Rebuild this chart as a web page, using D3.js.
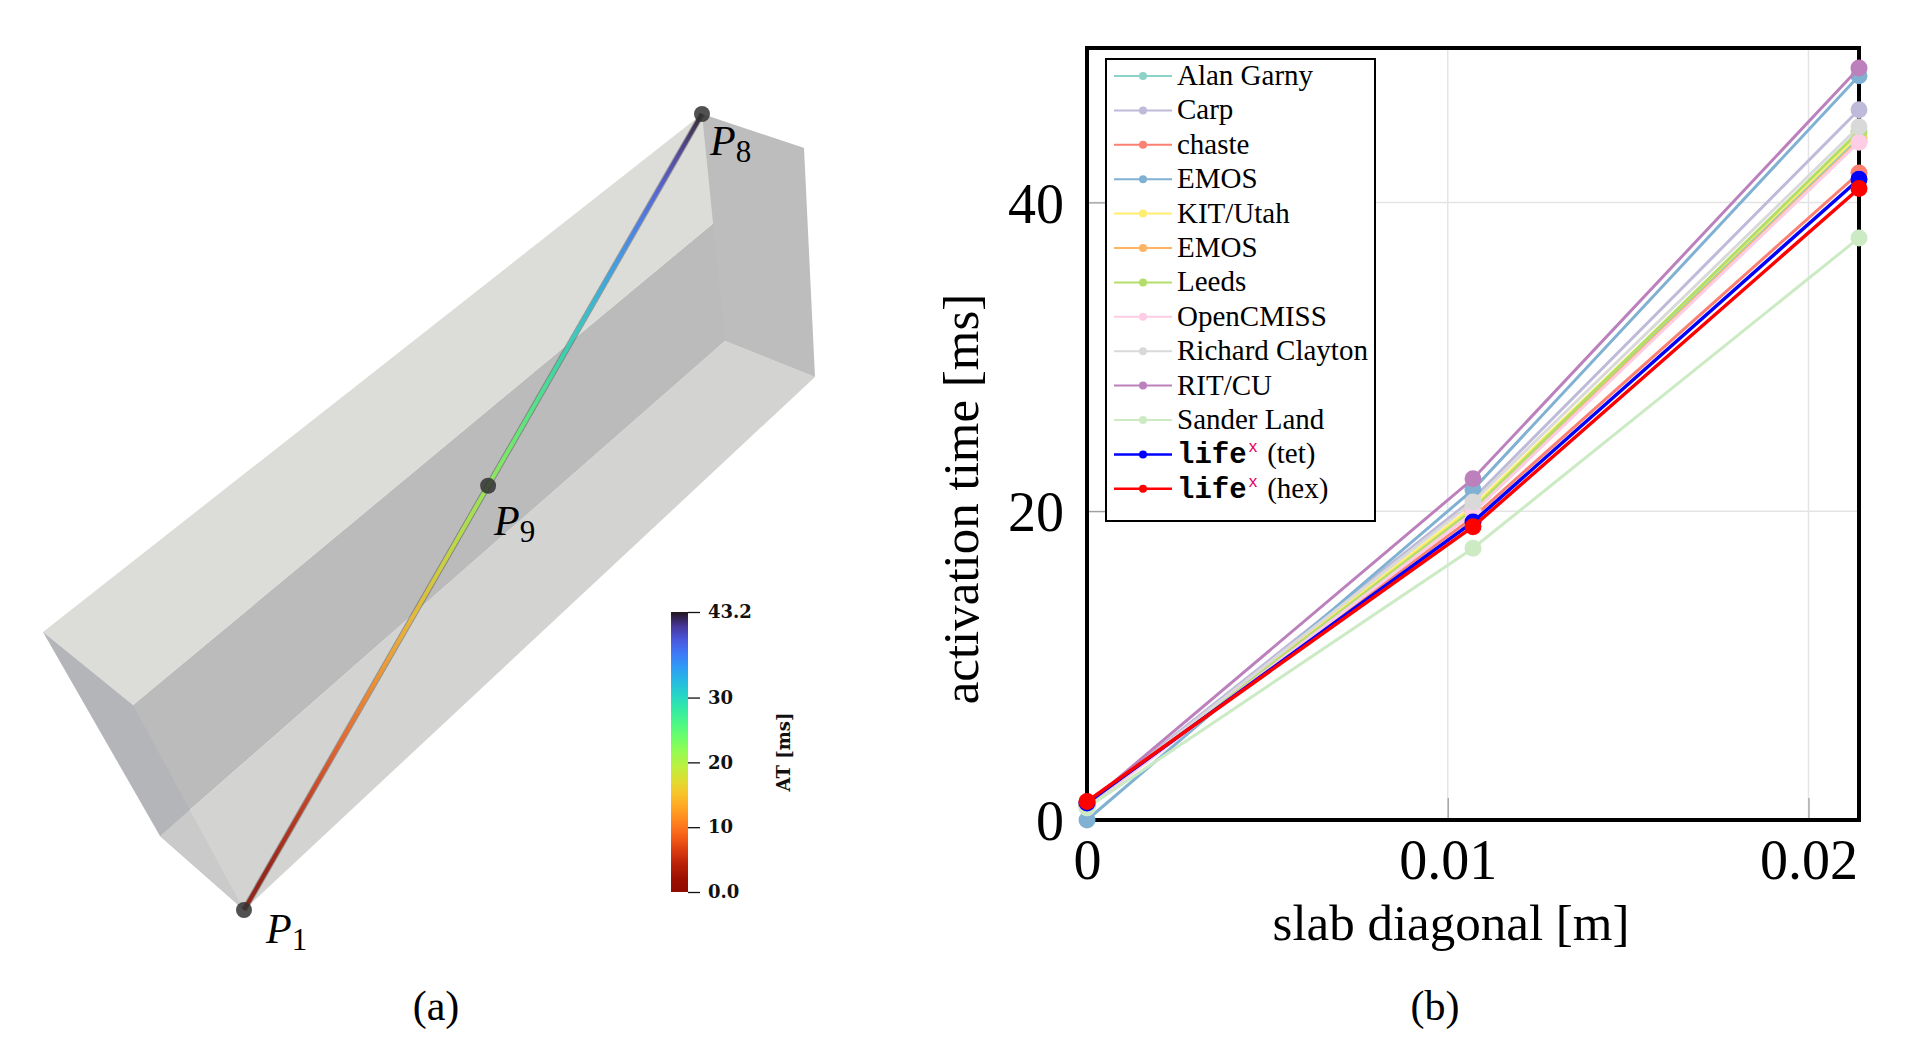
<!DOCTYPE html>
<html>
<head>
<meta charset="utf-8">
<script src="https://cdn.jsdelivr.net/npm/d3@7"></script>
<style>
  body { margin: 0; background: #fff; }
  svg { display: block; }
  .serif { font-family: "Liberation Serif", "DejaVu Serif", serif; }
</style>
</head>
<body>
<svg id="fig" width="1914" height="1064"></svg>
<script>
// ---- data (b): activation time along slab diagonal ----
const diagPos = [0, 0.0107, 0.0214];
const seriesNames = ['Alan Garny', 'Carp', 'chaste', 'EMOS', 'KIT/Utah', 'EMOS', 'Leeds',
  'OpenCMISS', 'Richard Clayton', 'RIT/CU', 'Sander Land', 'lifex (tet)', 'lifex (hex)'];
const alanGarny = [0.9, 20.2, 44.2];
const carp = [1.0, 20.8, 46.0];
const chaste = [1.1, 19.6, 41.9];
const emos1 = [0.0, 21.4, 48.2];
const kitUtah = [0.9, 20.3, 44.4];
const emos2 = [1.0, 20.0, 44.0];
const leeds = [0.9, 20.1, 44.6];
const openCmiss = [0.8, 19.9, 43.9];
const richardClayton = [0.9, 20.6, 44.9];
const ritCu = [1.0, 22.1, 48.7];
const sanderLand = [0.8, 17.6, 37.7];
const lifexTet = [1.1, 19.3, 41.5];
const lifexHex = [1.2, 19.0, 40.9];
const seriesValues = [alanGarny, carp, chaste, emos1, kitUtah, emos2, leeds,
  openCmiss, richardClayton, ritCu, sanderLand, lifexTet, lifexHex];
const xTicks = [0, 0.01, 0.02];
const yTicks = [0, 20, 40];

// ---- data (a): colour bar ----
const atMax = 43.2;
const atTicks = [0, 10, 20, 30, 43.2];

const palette = ['#8dd3c7', '#bebada', '#fb8072', '#80b1d3', '#ffed6f', '#fdb462', '#b3de69',
  '#fccde5', '#d9d9d9', '#bc80bd', '#ccebc5', '#0000ff', '#ff0000'];

const svg = d3.select('#fig');
const defs = svg.append('defs');

// ================= panel (a) =================
// projected corners of the slab (screen layout of the 3D view)
const box = {
  A: [43, 632], B: [133, 705], C: [160, 836], D: [244, 910],
  E: [702, 114], F: [804, 148], G: [815, 377], H: [725, 341]
};
const poly = keys => keys.map(k => box[k].join(',')).join(' ');

const pa = svg.append('g').attr('class', 'panelA');

pa.append('polygon').attr('points', poly(['B', 'F', 'H', 'C'])).attr('fill', '#bbbbbb');
pa.append('polygon').attr('points', poly(['A', 'B', 'F', 'E'])).attr('fill', '#dcdcd9');
pa.append('polygon').attr('points', poly(['A', 'B', 'D', 'C'])).attr('fill', '#b4b5b9');
pa.append('polygon').attr('points', poly(['C', 'D', 'G', 'H']))
  .attr('fill', 'rgb(205,205,203)').attr('fill-opacity', 0.87);
pa.append('polygon').attr('points', poly(['E', 'F', 'G', 'H'])).attr('fill', '#bdbdbd');

// colour scale (reversed turbo)
const atColor = v => d3.interpolateTurbo(1 - v / atMax);

// screen fraction along P1->P8 vs. fraction along the real diagonal (perspective)
const screenT = d3.scaleLinear().domain([0, 0.5, 1]).range([0, 0.533, 1]);
const lerp = (a, b, t) => [a[0] + (b[0] - a[0]) * t, a[1] + (b[1] - a[1]) * t];

const grad = defs.append('linearGradient').attr('id', 'diagGrad')
  .attr('gradientUnits', 'userSpaceOnUse')
  .attr('x1', box.D[0]).attr('y1', box.D[1]).attr('x2', box.E[0]).attr('y2', box.E[1]);
d3.range(0, 1.0001, 0.05).forEach(s => {
  grad.append('stop').attr('offset', screenT(s)).attr('stop-color', atColor(s * atMax));
});
pa.append('line')
  .attr('x1', box.D[0]).attr('y1', box.D[1]).attr('x2', box.E[0]).attr('y2', box.E[1])
  .attr('stroke', '#444').attr('stroke-opacity', 0.45).attr('stroke-width', 6);
pa.append('line')
  .attr('x1', box.D[0]).attr('y1', box.D[1]).attr('x2', box.E[0]).attr('y2', box.E[1])
  .attr('stroke', 'url(#diagGrad)').attr('stroke-width', 4).attr('stroke-opacity', 0.82);

const probes = [
  { name: '1', s: 0, lx: 266, ly: 943 },
  { name: '9', s: 0.5, lx: 494, ly: 535 },
  { name: '8', s: 1, lx: 710, ly: 155 }
];
probes.forEach(d => {
  const p = lerp(box.D, box.E, screenT(d.s));
  pa.append('circle').attr('cx', p[0]).attr('cy', p[1]).attr('r', 8)
    .attr('fill', '#333').attr('fill-opacity', 0.85);
  const t = pa.append('text').attr('class', 'serif').attr('x', d.lx).attr('y', d.ly)
    .style('font-size', '42px').style('font-style', 'italic').text('P');
  t.append('tspan').attr('dy', 7).style('font-size', '31px').style('font-style', 'normal').text(d.name);
});

// colour bar
const cbY = d3.scaleLinear().domain([0, atMax]).range([892, 612]);
const cbGrad = defs.append('linearGradient').attr('id', 'cbGrad')
  .attr('x1', 0).attr('y1', 1).attr('x2', 0).attr('y2', 0);
d3.range(0, 1.0001, 0.05).forEach(t => {
  cbGrad.append('stop').attr('offset', t).attr('stop-color', atColor(t * atMax));
});
pa.append('rect').attr('x', 671).attr('y', cbY(atMax)).attr('width', 17)
  .attr('height', cbY(0) - cbY(atMax)).attr('fill', 'url(#cbGrad)');
const cbAxis = d3.axisRight(cbY).tickValues(atTicks).tickSize(12);
const cbG = pa.append('g').attr('transform', 'translate(688,0)').call(cbAxis);
cbG.select('.domain').remove();
cbG.selectAll('.tick line').attr('stroke', '#111').attr('stroke-width', 1.3);
cbG.selectAll('.tick text')
  .text(d => (d === 0 || d === atMax) ? d3.format('.1f')(d) : d3.format('d')(d))
  .attr('x', 20)
  .style('font-family', '"DejaVu Serif", serif').style('font-weight', 'bold')
  .style('font-size', '18px').attr('fill', '#111');
pa.append('text').attr('transform', 'translate(790,752) rotate(-90)')
  .attr('text-anchor', 'middle')
  .style('font-family', '"DejaVu Serif", serif').style('font-weight', 'bold')
  .style('font-size', '18px').attr('fill', '#111').text('AT [ms]');

// caption
svg.append('text').attr('class', 'serif').attr('x', 436).attr('y', 1020)
  .attr('text-anchor', 'middle').style('font-size', '42px').text('(a)');

// ================= panel (b) =================
const x = d3.scaleLinear().domain([0, 0.0214]).range([1087, 1859]);
const y = d3.scaleLinear().domain([0, 50]).range([820, 48]);

const pb = svg.append('g').attr('class', 'panelB');

// grid
pb.selectAll('.gx').data(xTicks.slice(1)).join('line').attr('class', 'gx')
  .attr('x1', d => x(d)).attr('x2', d => x(d)).attr('y1', y(50)).attr('y2', y(0))
  .attr('stroke', '#e4e4e4').attr('stroke-width', 1.5);
pb.selectAll('.gy').data(yTicks.slice(1)).join('line').attr('class', 'gy')
  .attr('y1', d => y(d)).attr('y2', d => y(d)).attr('x1', x(0)).attr('x2', x(0.0214))
  .attr('stroke', '#e4e4e4').attr('stroke-width', 1.5);

// axes (inward ticks, labels)
const xAxis = d3.axisBottom(x).tickValues(xTicks).tickSize(-22)
  .tickFormat(d => d === 0 ? '0' : d3.format('.2f')(d));
const gxA = pb.append('g').attr('transform', `translate(0,${y(0)})`).call(xAxis);
const yAxis = d3.axisLeft(y).tickValues(yTicks).tickSize(-22);
const gyA = pb.append('g').attr('transform', `translate(${x(0)},0)`).call(yAxis);
[gxA, gyA].forEach(g => {
  g.select('.domain').remove();
  g.selectAll('.tick line').attr('stroke', '#999').attr('stroke-width', 1.2);
  g.selectAll('.tick text').attr('class', 'serif').style('font-size', '56px').attr('fill', '#000');
});
gxA.selectAll('.tick text').attr('dy', 0).attr('y', 59);
gyA.selectAll('.tick text').attr('dy', '0.35em').attr('x', -23);
gyA.selectAll('.tick').filter(d => d === 0).select('line').remove();
gxA.selectAll('.tick').filter(d => d === 0).select('line').remove();

// frame
pb.append('rect').attr('x', x(0)).attr('y', y(50))
  .attr('width', x(0.0214) - x(0)).attr('height', y(0) - y(50))
  .attr('fill', 'none').attr('stroke', '#000').attr('stroke-width', 4);

// series
const line = d3.line().x((d, i) => x(diagPos[i])).y(d => y(d));
seriesValues.forEach((vals, k) => {
  const s = pb.append('g').attr('class', 'series');
  s.append('path').attr('d', line(vals)).attr('fill', 'none')
    .attr('stroke', palette[k]).attr('stroke-width', k >= 11 ? 3.5 : 3);
  s.selectAll('circle').data(vals).join('circle')
    .attr('cx', (d, i) => x(diagPos[i])).attr('cy', d => y(d))
    .attr('r', 8.5).attr('fill', palette[k]);
});

// legend
const lg = pb.append('g').attr('class', 'legend');
lg.append('rect').attr('x', 1106).attr('y', 59).attr('width', 269).attr('height', 462)
  .attr('fill', '#fff').attr('stroke', '#000').attr('stroke-width', 2);
seriesNames.forEach((name, k) => {
  const ry = 76 + k * 34.4;
  lg.append('line').attr('x1', 1114).attr('x2', 1172).attr('y1', ry).attr('y2', ry)
    .attr('stroke', palette[k]).attr('stroke-width', k >= 11 ? 2.5 : 2);
  lg.append('circle').attr('cx', 1143).attr('cy', ry).attr('r', 4).attr('fill', palette[k]);
  const t = lg.append('text').attr('class', 'serif').attr('x', 1177).attr('y', ry + 9)
    .style('font-size', '29px');
  if (name.startsWith('lifex')) {
    t.append('tspan').style('font-family', '"Liberation Mono", "DejaVu Sans Mono", monospace')
      .style('font-size', '29px').style('font-weight', 'bold').text('life');
    t.append('tspan').attr('dy', -11).attr('dx', 2).style('font-size', '17px')
      .style('font-family', '"Liberation Sans", sans-serif').attr('fill', '#e6005c').text('x');
    t.append('tspan').attr('dy', 11).attr('dx', 10).text(name.slice(6));
  } else {
    t.text(name);
  }
});

// axis titles
svg.append('text').attr('class', 'serif').attr('x', 1451).attr('y', 940)
  .attr('text-anchor', 'middle').style('font-size', '51px').text('slab diagonal [m]');
svg.append('text').attr('class', 'serif').attr('transform', 'translate(978,499) rotate(-90)')
  .attr('text-anchor', 'middle').style('font-size', '51px').text('activation time [ms]');

svg.append('text').attr('class', 'serif').attr('x', 1435).attr('y', 1020)
  .attr('text-anchor', 'middle').style('font-size', '42px').text('(b)');
</script>
</body>
</html>
